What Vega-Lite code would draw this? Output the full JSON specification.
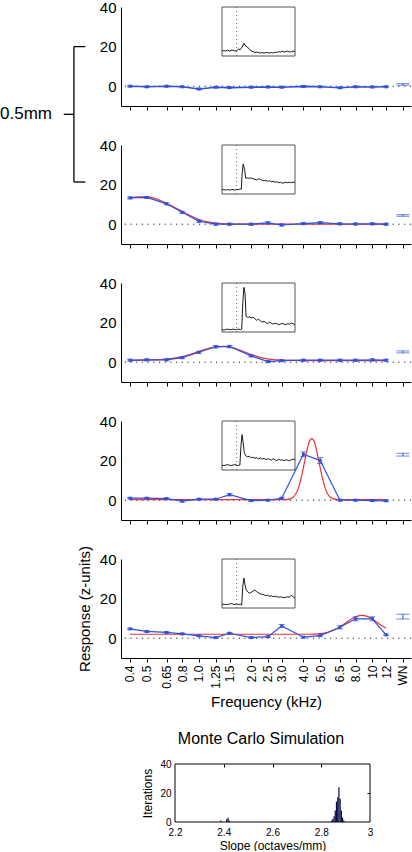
{
"$schema": "https://vega.github.io/schema/vega-lite/v6.json",
"padding": {"left": 0, "top": 0, "right": 0, "bottom": 0},
"background": "white",
"bounds": "flush",
"spacing": 39,
"config": {"view": {"stroke": null}, "font": "Liberation Sans",
 "axis": {"domainColor": "black", "tickColor": "black", "labelColor": "black", "titleColor": "black", "labelFont": "Liberation Sans", "titleFont": "Liberation Sans", "titleFontWeight": "normal", "grid": false},
 "title": {"font": "Liberation Sans", "fontWeight": "normal", "color": "black"}},
"datasets": {
"d": [
{"p":1,"f":0.4,"r":0,"e":0.4},{"p":1,"f":0.5,"r":-0.3,"e":0.4},{"p":1,"f":0.65,"r":0,"e":0.4},{"p":1,"f":0.8,"r":-0.3,"e":0.4},{"p":1,"f":1,"r":-1.4,"e":0.4},{"p":1,"f":1.25,"r":-0.5,"e":0.4},{"p":1,"f":1.5,"r":-0.7,"e":0.4},{"p":1,"f":2,"r":-0.5,"e":0.4},{"p":1,"f":2.5,"r":-0.4,"e":0.4},{"p":1,"f":3,"r":-0.5,"e":0.4},{"p":1,"f":4,"r":-0.1,"e":0.4},{"p":1,"f":5,"r":-0.3,"e":0.4},{"p":1,"f":6.5,"r":-0.8,"e":0.4},{"p":1,"f":8,"r":-0.3,"e":0.4},{"p":1,"f":10,"r":-0.4,"e":0.4},{"p":1,"f":12,"r":-0.3,"e":0.4},
{"p":2,"f":0.4,"r":13.3,"e":0.5},{"p":2,"f":0.5,"r":13.5,"e":0.5},{"p":2,"f":0.65,"r":10.3,"e":0.5},{"p":2,"f":0.8,"r":6,"e":0.5},{"p":2,"f":1,"r":1.5,"e":0.5},{"p":2,"f":1.25,"r":0,"e":0.5},{"p":2,"f":1.5,"r":0,"e":0.5},{"p":2,"f":2,"r":0,"e":0.5},{"p":2,"f":2.5,"r":0.7,"e":0.5},{"p":2,"f":3,"r":-0.4,"e":0.5},{"p":2,"f":4,"r":0.3,"e":0.5},{"p":2,"f":5,"r":0.8,"e":0.5},{"p":2,"f":6.5,"r":0.2,"e":0.5},{"p":2,"f":8,"r":0.1,"e":0.5},{"p":2,"f":10,"r":0.2,"e":0.5},{"p":2,"f":12,"r":0,"e":0.5},
{"p":3,"f":0.4,"r":1,"e":0.5},{"p":3,"f":0.5,"r":1.2,"e":0.5},{"p":3,"f":0.65,"r":1.2,"e":0.5},{"p":3,"f":0.8,"r":2.3,"e":0.5},{"p":3,"f":1,"r":5,"e":0.5},{"p":3,"f":1.25,"r":7.8,"e":0.6},{"p":3,"f":1.5,"r":7.9,"e":0.6},{"p":3,"f":2,"r":3.2,"e":0.5},{"p":3,"f":2.5,"r":0.3,"e":0.5},{"p":3,"f":3,"r":0.8,"e":0.5},{"p":3,"f":4,"r":1,"e":0.5},{"p":3,"f":5,"r":1,"e":0.5},{"p":3,"f":6.5,"r":1,"e":0.5},{"p":3,"f":8,"r":1,"e":0.5},{"p":3,"f":10,"r":1.2,"e":0.5},{"p":3,"f":12,"r":1,"e":0.5},
{"p":4,"f":0.4,"r":1,"e":0.4},{"p":4,"f":0.5,"r":1,"e":0.4},{"p":4,"f":0.65,"r":0.8,"e":0.4},{"p":4,"f":0.8,"r":-0.5,"e":0.4},{"p":4,"f":1,"r":0.5,"e":0.4},{"p":4,"f":1.25,"r":0.5,"e":0.4},{"p":4,"f":1.5,"r":2.8,"e":0.6},{"p":4,"f":2,"r":-0.2,"e":0.4},{"p":4,"f":2.5,"r":0,"e":0.4},{"p":4,"f":3,"r":1,"e":0.4},{"p":4,"f":4,"r":23.2,"e":1.2},{"p":4,"f":5,"r":20,"e":1.5},{"p":4,"f":6.5,"r":0,"e":0.4},{"p":4,"f":8,"r":0,"e":0.4},{"p":4,"f":10,"r":-0.2,"e":0.4},{"p":4,"f":12,"r":-0.3,"e":0.4},
{"p":5,"f":0.4,"r":4.7,"e":0.4},{"p":5,"f":0.5,"r":3.4,"e":0.4},{"p":5,"f":0.65,"r":2.9,"e":0.4},{"p":5,"f":0.8,"r":2.2,"e":0.4},{"p":5,"f":1,"r":1.2,"e":0.4},{"p":5,"f":1.25,"r":0.3,"e":0.4},{"p":5,"f":1.5,"r":2.5,"e":0.4},{"p":5,"f":2,"r":0.3,"e":0.4},{"p":5,"f":2.5,"r":0.8,"e":0.4},{"p":5,"f":3,"r":6.2,"e":0.7},{"p":5,"f":4,"r":0.5,"e":0.4},{"p":5,"f":5,"r":1.3,"e":0.4},{"p":5,"f":6.5,"r":5.5,"e":0.8},{"p":5,"f":8,"r":9.8,"e":1},{"p":5,"f":10,"r":9.8,"e":1},{"p":5,"f":12,"r":1.7,"e":0.4}
],
"wn": [
{"p":1,"f":15,"r":0.9,"e":0.4},{"p":2,"f":15,"r":4.4,"e":0.4},{"p":3,"f":15,"r":5.2,"e":0.5},{"p":4,"f":15,"r":23,"e":0.7},{"p":5,"f":15,"r":10.9,"e":1.2}
],
"fit": [
{"p":2,"f":0.4,"r":13.3},{"p":2,"f":0.45,"r":13.8},{"p":2,"f":0.5,"r":13.8},{"p":2,"f":0.55,"r":13.2},{"p":2,"f":0.6,"r":11.9},{"p":2,"f":0.65,"r":10.6},{"p":2,"f":0.7,"r":9.2},{"p":2,"f":0.75,"r":7.8},{"p":2,"f":0.8,"r":6.4},{"p":2,"f":0.9,"r":4.1},{"p":2,"f":1,"r":2.4},{"p":2,"f":1.1,"r":1.3},{"p":2,"f":1.25,"r":0.5},{"p":2,"f":1.4,"r":0.2},{"p":2,"f":1.6,"r":0.05},{"p":2,"f":2,"r":0},{"p":2,"f":3,"r":0},{"p":2,"f":5,"r":0},{"p":2,"f":8,"r":0},{"p":2,"f":12,"r":0},
{"p":3,"f":0.4,"r":0.9},{"p":3,"f":0.5,"r":1},{"p":3,"f":0.6,"r":1.3},{"p":3,"f":0.7,"r":1.9},{"p":3,"f":0.8,"r":2.8},{"p":3,"f":0.9,"r":4.1},{"p":3,"f":1,"r":5.4},{"p":3,"f":1.1,"r":6.6},{"p":3,"f":1.2,"r":7.5},{"p":3,"f":1.3,"r":7.9},{"p":3,"f":1.4,"r":8},{"p":3,"f":1.5,"r":7.7},{"p":3,"f":1.7,"r":6.3},{"p":3,"f":2,"r":3.9},{"p":3,"f":2.3,"r":2.2},{"p":3,"f":2.6,"r":1.4},{"p":3,"f":3,"r":1},{"p":3,"f":4,"r":0.8},{"p":3,"f":6,"r":0.8},{"p":3,"f":12,"r":0.8},
{"p":4,"f":0.4,"r":0.3},{"p":4,"f":1,"r":0.3},{"p":4,"f":2,"r":0.3},{"p":4,"f":2.6,"r":0.3},{"p":4,"f":2.95,"r":0.33},{"p":4,"f":3.16,"r":0.35},{"p":4,"f":3.39,"r":0.8},{"p":4,"f":3.63,"r":3.4},{"p":4,"f":3.76,"r":6.6},{"p":4,"f":3.89,"r":11.5},{"p":4,"f":4.03,"r":17.8},{"p":4,"f":4.17,"r":24.3},{"p":4,"f":4.32,"r":29.4},{"p":4,"f":4.47,"r":31.1},{"p":4,"f":4.63,"r":29.4},{"p":4,"f":4.79,"r":24.3},{"p":4,"f":4.96,"r":17.8},{"p":4,"f":5.14,"r":11.5},{"p":4,"f":5.32,"r":6.6},{"p":4,"f":5.5,"r":3.4},{"p":4,"f":5.9,"r":0.8},{"p":4,"f":6.32,"r":0.35},{"p":4,"f":6.78,"r":0.3},{"p":4,"f":8,"r":0.3},{"p":4,"f":12,"r":0.3},
{"p":5,"f":0.4,"r":2},{"p":5,"f":1,"r":2},{"p":5,"f":2,"r":2},{"p":5,"f":4,"r":2},{"p":5,"f":4.66,"r":2.1},{"p":5,"f":5,"r":2.3},{"p":5,"f":5.36,"r":2.7},{"p":5,"f":5.74,"r":3.4},{"p":5,"f":6.15,"r":4.5},{"p":5,"f":6.59,"r":6},{"p":5,"f":7.07,"r":7.9},{"p":5,"f":7.58,"r":9.7},{"p":5,"f":8.12,"r":11},{"p":5,"f":8.7,"r":11.5},{"p":5,"f":9.33,"r":11},{"p":5,"f":10,"r":9.7},{"p":5,"f":10.7,"r":7.9},{"p":5,"f":11.48,"r":6},{"p":5,"f":12,"r":5}
],
"ins": [
{"p":1,"t":0,"v":10},{"p":1,"t":2.5,"v":11},{"p":1,"t":5,"v":10},{"p":1,"t":7.5,"v":12},{"p":1,"t":10,"v":10},{"p":1,"t":12.5,"v":11},{"p":1,"t":15,"v":12},{"p":1,"t":17.5,"v":10},{"p":1,"t":20,"v":11},{"p":1,"t":22.5,"v":14},{"p":1,"t":25,"v":13},{"p":1,"t":27.5,"v":18},{"p":1,"t":30,"v":26},{"p":1,"t":32.5,"v":20},{"p":1,"t":35,"v":18},{"p":1,"t":37.5,"v":14},{"p":1,"t":40,"v":10},{"p":1,"t":42.5,"v":9},{"p":1,"t":45,"v":7},{"p":1,"t":47.5,"v":8},{"p":1,"t":50,"v":7},{"p":1,"t":52.5,"v":6},{"p":1,"t":55,"v":7},{"p":1,"t":57.5,"v":6},{"p":1,"t":60,"v":7},{"p":1,"t":62.5,"v":7},{"p":1,"t":65,"v":6},{"p":1,"t":67.5,"v":7},{"p":1,"t":70,"v":6},{"p":1,"t":72.5,"v":8},{"p":1,"t":75,"v":7},{"p":1,"t":77.5,"v":9},{"p":1,"t":80,"v":8},{"p":1,"t":82.5,"v":10},{"p":1,"t":85,"v":8},{"p":1,"t":87.5,"v":9},{"p":1,"t":90,"v":10},{"p":1,"t":92.5,"v":8},{"p":1,"t":95,"v":9},{"p":1,"t":97.5,"v":10},{"p":1,"t":100,"v":9},
{"p":2,"t":0,"v":8},{"p":2,"t":2.5,"v":9},{"p":2,"t":5,"v":8},{"p":2,"t":7.5,"v":9},{"p":2,"t":10,"v":8},{"p":2,"t":12.5,"v":9},{"p":2,"t":15,"v":9},{"p":2,"t":17.5,"v":8},{"p":2,"t":20,"v":9},{"p":2,"t":22.5,"v":9},{"p":2,"t":25,"v":10},{"p":2,"t":26.5,"v":10},{"p":2,"t":27.5,"v":40},{"p":2,"t":29,"v":61},{"p":2,"t":31,"v":50},{"p":2,"t":32.5,"v":32},{"p":2,"t":35,"v":33},{"p":2,"t":37.5,"v":32},{"p":2,"t":40,"v":33},{"p":2,"t":42.5,"v":31},{"p":2,"t":45,"v":30},{"p":2,"t":47.5,"v":29},{"p":2,"t":50,"v":31},{"p":2,"t":52.5,"v":30},{"p":2,"t":55,"v":28},{"p":2,"t":57.5,"v":27},{"p":2,"t":60,"v":28},{"p":2,"t":62.5,"v":26},{"p":2,"t":65,"v":27},{"p":2,"t":67.5,"v":25},{"p":2,"t":70,"v":26},{"p":2,"t":72.5,"v":24},{"p":2,"t":75,"v":25},{"p":2,"t":77.5,"v":23},{"p":2,"t":80,"v":24},{"p":2,"t":82.5,"v":22},{"p":2,"t":85,"v":23},{"p":2,"t":87.5,"v":24},{"p":2,"t":90,"v":23},{"p":2,"t":92.5,"v":24},{"p":2,"t":95,"v":23},{"p":2,"t":97.5,"v":24},{"p":2,"t":100,"v":24},
{"p":3,"t":0,"v":5},{"p":3,"t":2.5,"v":4},{"p":3,"t":5,"v":5},{"p":3,"t":7.5,"v":6},{"p":3,"t":10,"v":5},{"p":3,"t":12.5,"v":5},{"p":3,"t":15,"v":6},{"p":3,"t":17.5,"v":5},{"p":3,"t":20,"v":5},{"p":3,"t":22.5,"v":6},{"p":3,"t":25,"v":5},{"p":3,"t":27,"v":6},{"p":3,"t":28.5,"v":60},{"p":3,"t":30,"v":91},{"p":3,"t":31.5,"v":80},{"p":3,"t":33,"v":32},{"p":3,"t":35,"v":30},{"p":3,"t":37.5,"v":31},{"p":3,"t":40,"v":29},{"p":3,"t":42.5,"v":30},{"p":3,"t":45,"v":27},{"p":3,"t":47.5,"v":24},{"p":3,"t":50,"v":26},{"p":3,"t":52.5,"v":23},{"p":3,"t":55,"v":20},{"p":3,"t":57.5,"v":22},{"p":3,"t":60,"v":19},{"p":3,"t":62.5,"v":17},{"p":3,"t":65,"v":20},{"p":3,"t":67.5,"v":18},{"p":3,"t":70,"v":16},{"p":3,"t":72.5,"v":18},{"p":3,"t":75,"v":17},{"p":3,"t":77.5,"v":15},{"p":3,"t":80,"v":16},{"p":3,"t":82.5,"v":18},{"p":3,"t":85,"v":16},{"p":3,"t":87.5,"v":15},{"p":3,"t":90,"v":17},{"p":3,"t":92.5,"v":16},{"p":3,"t":95,"v":18},{"p":3,"t":97.5,"v":17},{"p":3,"t":100,"v":14},
{"p":4,"t":0,"v":10},{"p":4,"t":2.5,"v":9},{"p":4,"t":5,"v":10},{"p":4,"t":7.5,"v":11},{"p":4,"t":10,"v":10},{"p":4,"t":12.5,"v":9},{"p":4,"t":15,"v":10},{"p":4,"t":17.5,"v":11},{"p":4,"t":20,"v":10},{"p":4,"t":22.5,"v":9},{"p":4,"t":24.5,"v":10},{"p":4,"t":26,"v":50},{"p":4,"t":27.5,"v":72},{"p":4,"t":29,"v":55},{"p":4,"t":30.5,"v":36},{"p":4,"t":32.5,"v":29},{"p":4,"t":35,"v":27},{"p":4,"t":37.5,"v":28},{"p":4,"t":40,"v":25},{"p":4,"t":42.5,"v":26},{"p":4,"t":45,"v":24},{"p":4,"t":47.5,"v":25},{"p":4,"t":50,"v":23},{"p":4,"t":52.5,"v":25},{"p":4,"t":55,"v":22},{"p":4,"t":57.5,"v":24},{"p":4,"t":60,"v":21},{"p":4,"t":62.5,"v":23},{"p":4,"t":65,"v":22},{"p":4,"t":67.5,"v":20},{"p":4,"t":70,"v":23},{"p":4,"t":72.5,"v":21},{"p":4,"t":75,"v":19},{"p":4,"t":77.5,"v":22},{"p":4,"t":80,"v":20},{"p":4,"t":82.5,"v":21},{"p":4,"t":85,"v":19},{"p":4,"t":87.5,"v":21},{"p":4,"t":90,"v":20},{"p":4,"t":92.5,"v":19},{"p":4,"t":95,"v":21},{"p":4,"t":97.5,"v":22},{"p":4,"t":100,"v":21},
{"p":5,"t":0,"v":7},{"p":5,"t":2.5,"v":8},{"p":5,"t":5,"v":7},{"p":5,"t":7.5,"v":7},{"p":5,"t":10,"v":8},{"p":5,"t":12.5,"v":9},{"p":5,"t":15,"v":8},{"p":5,"t":17.5,"v":7},{"p":5,"t":20,"v":8},{"p":5,"t":22.5,"v":7},{"p":5,"t":25,"v":8},{"p":5,"t":27,"v":6},{"p":5,"t":28.5,"v":45},{"p":5,"t":30,"v":61},{"p":5,"t":31.5,"v":48},{"p":5,"t":33,"v":38},{"p":5,"t":35,"v":33},{"p":5,"t":37.5,"v":30},{"p":5,"t":40,"v":32},{"p":5,"t":42.5,"v":34},{"p":5,"t":45,"v":37},{"p":5,"t":47.5,"v":33},{"p":5,"t":50,"v":31},{"p":5,"t":52.5,"v":29},{"p":5,"t":55,"v":28},{"p":5,"t":57.5,"v":27},{"p":5,"t":60,"v":25},{"p":5,"t":62.5,"v":26},{"p":5,"t":65,"v":24},{"p":5,"t":67.5,"v":25},{"p":5,"t":70,"v":23},{"p":5,"t":72.5,"v":24},{"p":5,"t":75,"v":23},{"p":5,"t":77.5,"v":22},{"p":5,"t":80,"v":23},{"p":5,"t":82.5,"v":22},{"p":5,"t":85,"v":21},{"p":5,"t":87.5,"v":22},{"p":5,"t":90,"v":23},{"p":5,"t":92.5,"v":22},{"p":5,"t":95,"v":26},{"p":5,"t":97.5,"v":23},{"p":5,"t":100,"v":20}
],
"hist": [
{"lo":2.385,"hi":2.39,"n":1},{"lo":2.41,"hi":2.415,"n":2},{"lo":2.415,"hi":2.42,"n":3},{"lo":2.42,"hi":2.425,"n":1},
{"lo":2.84,"hi":2.845,"n":1},{"lo":2.845,"hi":2.85,"n":2},{"lo":2.85,"hi":2.855,"n":4},{"lo":2.855,"hi":2.86,"n":8},{"lo":2.86,"hi":2.865,"n":14},{"lo":2.865,"hi":2.87,"n":17},{"lo":2.87,"hi":2.875,"n":24},{"lo":2.875,"hi":2.88,"n":16},{"lo":2.88,"hi":2.885,"n":8},{"lo":2.885,"hi":2.89,"n":3},{"lo":2.89,"hi":2.895,"n":1}
]
},
"vconcat": [
{"width": 290, "height": 99, "resolve": {"scale": {"x": "independent", "y": "independent"}},
 "layer": [
  {"layer": [
   {"data": {"values": [{}]}, "mark": {"type": "rule", "strokeDash": [1.2, 4.5], "color": "#222"}, "encoding": {"y": {"datum": 0, "type": "quantitative", "scale": {"domain": [-10, 40], "nice": false, "zero": false}}}},
   {"data": {"name": "d"}, "transform": [{"filter": "datum.p == 1"}], "mark": {"type": "errorbar", "color": "#3050d8", "ticks": {"size": 6}}, "encoding": {"x": {"field": "f", "type": "quantitative", "scale": {"type": "log", "domain": [0.355, 16.7], "nice": false}}, "y": {"field": "r", "type": "quantitative", "scale": {"domain": [-10, 40], "nice": false, "zero": false}}, "yError": {"field": "e"}}},
   {"data": {"name": "d"}, "transform": [{"filter": "datum.p == 1"}], "mark": {"type": "line", "color": "#3050d8", "strokeWidth": 1.6},
    "encoding": {"x": {"field": "f", "type": "quantitative", "scale": {"type": "log", "domain": [0.355, 16.7], "nice": false}, "axis": {"values": [0.4,0.5,0.65,0.8,1,1.25,1.5,2,2.5,3,4,5,6.5,8,10,12,15], "labels": false, "tickSize": 4, "title": null}}, "y": {"field": "r", "type": "quantitative", "scale": {"domain": [-10, 40], "nice": false, "zero": false}, "axis": {"values": [0,20,40], "tickSize": 0, "labelPadding": 5, "labelFontSize": 15, "title": null}}}},
   {"data": {"name": "d"}, "transform": [{"filter": "datum.p == 1"}], "mark": {"type": "square", "size": 9, "color": "#3050d8", "opacity": 1}, "encoding": {"x": {"field": "f", "type": "quantitative", "scale": {"type": "log", "domain": [0.355, 16.7], "nice": false}}, "y": {"field": "r", "type": "quantitative", "scale": {"domain": [-10, 40], "nice": false, "zero": false}}}},
   {"data": {"name": "wn"}, "transform": [{"filter": "datum.p == 1"}], "mark": {"type": "errorbar", "color": "#3050d8", "ticks": {"size": 13}}, "encoding": {"x": {"field": "f", "type": "quantitative", "scale": {"type": "log", "domain": [0.355, 16.7], "nice": false}}, "y": {"field": "r", "type": "quantitative", "scale": {"domain": [-10, 40], "nice": false, "zero": false}}, "yError": {"field": "e"}}},
   {"data": {"values": [{}]}, "mark": {"type": "rule", "color": "black", "strokeWidth": 1.3}, "encoding": {"x": {"datum": 0.19, "type": "quantitative", "scale": {"type": "log", "domain": [0.355, 16.7], "nice": false}}, "y": {"datum": 20, "type": "quantitative", "scale": {"domain": [-10, 40], "nice": false, "zero": false}}, "y2": {"datum": -48.4}}},
   {"data": {"values": [{}]}, "mark": {"type": "rule", "color": "black", "strokeWidth": 1.3}, "encoding": {"x": {"datum": 0.19, "type": "quantitative", "scale": {"type": "log", "domain": [0.355, 16.7], "nice": false}}, "x2": {"datum": 0.221}, "y": {"datum": 20, "type": "quantitative", "scale": {"domain": [-10, 40], "nice": false, "zero": false}}}},
   {"data": {"values": [{}]}, "mark": {"type": "rule", "color": "black", "strokeWidth": 1.3}, "encoding": {"x": {"datum": 0.19, "type": "quantitative", "scale": {"type": "log", "domain": [0.355, 16.7], "nice": false}}, "x2": {"datum": 0.221}, "y": {"datum": -48.4, "type": "quantitative", "scale": {"domain": [-10, 40], "nice": false, "zero": false}}}},
   {"data": {"values": [{}]}, "mark": {"type": "rule", "color": "black", "strokeWidth": 1.3}, "encoding": {"x": {"datum": 0.166, "type": "quantitative", "scale": {"type": "log", "domain": [0.355, 16.7], "nice": false}}, "x2": {"datum": 0.19}, "y": {"datum": -14.2, "type": "quantitative", "scale": {"domain": [-10, 40], "nice": false, "zero": false}}}},
   {"data": {"values": [{}]}, "mark": {"type": "text", "text": "0.5mm", "align": "right", "baseline": "middle", "fontSize": 17, "font": "Liberation Sans", "color": "black"}, "encoding": {"x": {"datum": 0.142, "type": "quantitative", "scale": {"type": "log", "domain": [0.355, 16.7], "nice": false}}, "y": {"datum": -14.2, "type": "quantitative", "scale": {"domain": [-10, 40], "nice": false, "zero": false}}}}
  ]},
  {"layer": [
   {"data": {"values": [{}]}, "mark": {"type": "rect", "fill": "white", "stroke": "#555", "strokeWidth": 1}, "encoding": {"x": {"datum": 0, "type": "quantitative", "scale": {"domain": [0, 100], "range": [101, 174], "nice": false, "zero": false}, "axis": null}, "x2": {"datum": 100}, "y": {"datum": 0, "type": "quantitative", "scale": {"domain": [0, 100], "range": [49, 0], "nice": false, "zero": false}, "axis": null}, "y2": {"datum": 100}}},
   {"data": {"values": [{}]}, "mark": {"type": "rule", "strokeDash": [1, 3], "color": "#666"}, "encoding": {"x": {"datum": 20, "type": "quantitative", "scale": {"domain": [0, 100], "range": [101, 174], "nice": false, "zero": false}, "axis": null}, "y": {"datum": 0, "type": "quantitative", "scale": {"domain": [0, 100], "range": [49, 0], "nice": false, "zero": false}, "axis": null}, "y2": {"datum": 100}}},
   {"data": {"name": "ins"}, "transform": [{"filter": "datum.p == 1"}], "mark": {"type": "line", "color": "black", "strokeWidth": 0.9}, "encoding": {"x": {"field": "t", "type": "quantitative", "scale": {"domain": [0, 100], "range": [101, 174], "nice": false, "zero": false}, "axis": null}, "y": {"field": "v", "type": "quantitative", "scale": {"domain": [0, 100], "range": [49, 0], "nice": false, "zero": false}, "axis": null}}}
  ]}
 ]},
{"width": 290, "height": 99, "resolve": {"scale": {"x": "independent", "y": "independent"}},
 "layer": [
  {"layer": [
   {"data": {"values": [{}]}, "mark": {"type": "rule", "strokeDash": [1.2, 4.5], "color": "#222"}, "encoding": {"y": {"datum": 0, "type": "quantitative", "scale": {"domain": [-10, 40], "nice": false, "zero": false}}}},
   {"data": {"name": "fit"}, "transform": [{"filter": "datum.p == 2"}], "mark": {"type": "line", "color": "#e8323c", "strokeWidth": 1.2, "interpolate": "monotone"}, "encoding": {"x": {"field": "f", "type": "quantitative", "scale": {"type": "log", "domain": [0.355, 16.7], "nice": false}}, "y": {"field": "r", "type": "quantitative", "scale": {"domain": [-10, 40], "nice": false, "zero": false}}}},
   {"data": {"name": "d"}, "transform": [{"filter": "datum.p == 2"}], "mark": {"type": "errorbar", "color": "#3050d8", "ticks": {"size": 6}}, "encoding": {"x": {"field": "f", "type": "quantitative", "scale": {"type": "log", "domain": [0.355, 16.7], "nice": false}}, "y": {"field": "r", "type": "quantitative", "scale": {"domain": [-10, 40], "nice": false, "zero": false}}, "yError": {"field": "e"}}},
   {"data": {"name": "d"}, "transform": [{"filter": "datum.p == 2"}], "mark": {"type": "line", "color": "#3050d8", "strokeWidth": 1.2},
    "encoding": {"x": {"field": "f", "type": "quantitative", "scale": {"type": "log", "domain": [0.355, 16.7], "nice": false}, "axis": {"values": [0.4,0.5,0.65,0.8,1,1.25,1.5,2,2.5,3,4,5,6.5,8,10,12,15], "labels": false, "tickSize": 4, "title": null}}, "y": {"field": "r", "type": "quantitative", "scale": {"domain": [-10, 40], "nice": false, "zero": false}, "axis": {"values": [0,20,40], "tickSize": 0, "labelPadding": 5, "labelFontSize": 15, "title": null}}}},
   {"data": {"name": "d"}, "transform": [{"filter": "datum.p == 2"}], "mark": {"type": "square", "size": 9, "color": "#3050d8", "opacity": 1}, "encoding": {"x": {"field": "f", "type": "quantitative", "scale": {"type": "log", "domain": [0.355, 16.7], "nice": false}}, "y": {"field": "r", "type": "quantitative", "scale": {"domain": [-10, 40], "nice": false, "zero": false}}}},
   {"data": {"name": "wn"}, "transform": [{"filter": "datum.p == 2"}], "mark": {"type": "errorbar", "color": "#3050d8", "ticks": {"size": 13}}, "encoding": {"x": {"field": "f", "type": "quantitative", "scale": {"type": "log", "domain": [0.355, 16.7], "nice": false}}, "y": {"field": "r", "type": "quantitative", "scale": {"domain": [-10, 40], "nice": false, "zero": false}}, "yError": {"field": "e"}}}
  ]},
  {"layer": [
   {"data": {"values": [{}]}, "mark": {"type": "rect", "fill": "white", "stroke": "#555", "strokeWidth": 1}, "encoding": {"x": {"datum": 0, "type": "quantitative", "scale": {"domain": [0, 100], "range": [101, 174], "nice": false, "zero": false}, "axis": null}, "x2": {"datum": 100}, "y": {"datum": 0, "type": "quantitative", "scale": {"domain": [0, 100], "range": [49, 0], "nice": false, "zero": false}, "axis": null}, "y2": {"datum": 100}}},
   {"data": {"values": [{}]}, "mark": {"type": "rule", "strokeDash": [1, 3], "color": "#666"}, "encoding": {"x": {"datum": 20, "type": "quantitative", "scale": {"domain": [0, 100], "range": [101, 174], "nice": false, "zero": false}, "axis": null}, "y": {"datum": 0, "type": "quantitative", "scale": {"domain": [0, 100], "range": [49, 0], "nice": false, "zero": false}, "axis": null}, "y2": {"datum": 100}}},
   {"data": {"name": "ins"}, "transform": [{"filter": "datum.p == 2"}], "mark": {"type": "line", "color": "black", "strokeWidth": 0.9}, "encoding": {"x": {"field": "t", "type": "quantitative", "scale": {"domain": [0, 100], "range": [101, 174], "nice": false, "zero": false}, "axis": null}, "y": {"field": "v", "type": "quantitative", "scale": {"domain": [0, 100], "range": [49, 0], "nice": false, "zero": false}, "axis": null}}}
  ]}
 ]},
{"width": 290, "height": 99, "resolve": {"scale": {"x": "independent", "y": "independent"}},
 "layer": [
  {"layer": [
   {"data": {"values": [{}]}, "mark": {"type": "rule", "strokeDash": [1.2, 4.5], "color": "#222"}, "encoding": {"y": {"datum": 0, "type": "quantitative", "scale": {"domain": [-10, 40], "nice": false, "zero": false}}}},
   {"data": {"name": "fit"}, "transform": [{"filter": "datum.p == 3"}], "mark": {"type": "line", "color": "#e8323c", "strokeWidth": 1.2, "interpolate": "monotone"}, "encoding": {"x": {"field": "f", "type": "quantitative", "scale": {"type": "log", "domain": [0.355, 16.7], "nice": false}}, "y": {"field": "r", "type": "quantitative", "scale": {"domain": [-10, 40], "nice": false, "zero": false}}}},
   {"data": {"name": "d"}, "transform": [{"filter": "datum.p == 3"}], "mark": {"type": "errorbar", "color": "#3050d8", "ticks": {"size": 6}}, "encoding": {"x": {"field": "f", "type": "quantitative", "scale": {"type": "log", "domain": [0.355, 16.7], "nice": false}}, "y": {"field": "r", "type": "quantitative", "scale": {"domain": [-10, 40], "nice": false, "zero": false}}, "yError": {"field": "e"}}},
   {"data": {"name": "d"}, "transform": [{"filter": "datum.p == 3"}], "mark": {"type": "line", "color": "#3050d8", "strokeWidth": 1.2},
    "encoding": {"x": {"field": "f", "type": "quantitative", "scale": {"type": "log", "domain": [0.355, 16.7], "nice": false}, "axis": {"values": [0.4,0.5,0.65,0.8,1,1.25,1.5,2,2.5,3,4,5,6.5,8,10,12,15], "labels": false, "tickSize": 4, "title": null}}, "y": {"field": "r", "type": "quantitative", "scale": {"domain": [-10, 40], "nice": false, "zero": false}, "axis": {"values": [0,20,40], "tickSize": 0, "labelPadding": 5, "labelFontSize": 15, "title": null}}}},
   {"data": {"name": "d"}, "transform": [{"filter": "datum.p == 3"}], "mark": {"type": "square", "size": 9, "color": "#3050d8", "opacity": 1}, "encoding": {"x": {"field": "f", "type": "quantitative", "scale": {"type": "log", "domain": [0.355, 16.7], "nice": false}}, "y": {"field": "r", "type": "quantitative", "scale": {"domain": [-10, 40], "nice": false, "zero": false}}}},
   {"data": {"name": "wn"}, "transform": [{"filter": "datum.p == 3"}], "mark": {"type": "errorbar", "color": "#3050d8", "ticks": {"size": 13}}, "encoding": {"x": {"field": "f", "type": "quantitative", "scale": {"type": "log", "domain": [0.355, 16.7], "nice": false}}, "y": {"field": "r", "type": "quantitative", "scale": {"domain": [-10, 40], "nice": false, "zero": false}}, "yError": {"field": "e"}}}
  ]},
  {"layer": [
   {"data": {"values": [{}]}, "mark": {"type": "rect", "fill": "white", "stroke": "#555", "strokeWidth": 1}, "encoding": {"x": {"datum": 0, "type": "quantitative", "scale": {"domain": [0, 100], "range": [101, 174], "nice": false, "zero": false}, "axis": null}, "x2": {"datum": 100}, "y": {"datum": 0, "type": "quantitative", "scale": {"domain": [0, 100], "range": [49, 0], "nice": false, "zero": false}, "axis": null}, "y2": {"datum": 100}}},
   {"data": {"values": [{}]}, "mark": {"type": "rule", "strokeDash": [1, 3], "color": "#666"}, "encoding": {"x": {"datum": 20, "type": "quantitative", "scale": {"domain": [0, 100], "range": [101, 174], "nice": false, "zero": false}, "axis": null}, "y": {"datum": 0, "type": "quantitative", "scale": {"domain": [0, 100], "range": [49, 0], "nice": false, "zero": false}, "axis": null}, "y2": {"datum": 100}}},
   {"data": {"name": "ins"}, "transform": [{"filter": "datum.p == 3"}], "mark": {"type": "line", "color": "black", "strokeWidth": 0.9}, "encoding": {"x": {"field": "t", "type": "quantitative", "scale": {"domain": [0, 100], "range": [101, 174], "nice": false, "zero": false}, "axis": null}, "y": {"field": "v", "type": "quantitative", "scale": {"domain": [0, 100], "range": [49, 0], "nice": false, "zero": false}, "axis": null}}}
  ]}
 ]},
{"width": 290, "height": 99, "resolve": {"scale": {"x": "independent", "y": "independent"}},
 "layer": [
  {"layer": [
   {"data": {"values": [{}]}, "mark": {"type": "rule", "strokeDash": [1.2, 4.5], "color": "#222"}, "encoding": {"y": {"datum": 0, "type": "quantitative", "scale": {"domain": [-10, 40], "nice": false, "zero": false}}}},
   {"data": {"name": "fit"}, "transform": [{"filter": "datum.p == 4"}], "mark": {"type": "line", "color": "#e8323c", "strokeWidth": 1.2, "interpolate": "monotone"}, "encoding": {"x": {"field": "f", "type": "quantitative", "scale": {"type": "log", "domain": [0.355, 16.7], "nice": false}}, "y": {"field": "r", "type": "quantitative", "scale": {"domain": [-10, 40], "nice": false, "zero": false}}}},
   {"data": {"name": "d"}, "transform": [{"filter": "datum.p == 4"}], "mark": {"type": "errorbar", "color": "#3050d8", "ticks": {"size": 6}}, "encoding": {"x": {"field": "f", "type": "quantitative", "scale": {"type": "log", "domain": [0.355, 16.7], "nice": false}}, "y": {"field": "r", "type": "quantitative", "scale": {"domain": [-10, 40], "nice": false, "zero": false}}, "yError": {"field": "e"}}},
   {"data": {"name": "d"}, "transform": [{"filter": "datum.p == 4"}], "mark": {"type": "line", "color": "#3050d8", "strokeWidth": 1.2},
    "encoding": {"x": {"field": "f", "type": "quantitative", "scale": {"type": "log", "domain": [0.355, 16.7], "nice": false}, "axis": {"values": [0.4,0.5,0.65,0.8,1,1.25,1.5,2,2.5,3,4,5,6.5,8,10,12,15], "labels": false, "tickSize": 4, "title": null}}, "y": {"field": "r", "type": "quantitative", "scale": {"domain": [-10, 40], "nice": false, "zero": false}, "axis": {"values": [0,20,40], "tickSize": 0, "labelPadding": 5, "labelFontSize": 15, "title": null}}}},
   {"data": {"name": "d"}, "transform": [{"filter": "datum.p == 4"}], "mark": {"type": "square", "size": 9, "color": "#3050d8", "opacity": 1}, "encoding": {"x": {"field": "f", "type": "quantitative", "scale": {"type": "log", "domain": [0.355, 16.7], "nice": false}}, "y": {"field": "r", "type": "quantitative", "scale": {"domain": [-10, 40], "nice": false, "zero": false}}}},
   {"data": {"name": "wn"}, "transform": [{"filter": "datum.p == 4"}], "mark": {"type": "errorbar", "color": "#3050d8", "ticks": {"size": 13}}, "encoding": {"x": {"field": "f", "type": "quantitative", "scale": {"type": "log", "domain": [0.355, 16.7], "nice": false}}, "y": {"field": "r", "type": "quantitative", "scale": {"domain": [-10, 40], "nice": false, "zero": false}}, "yError": {"field": "e"}}}
  ]},
  {"layer": [
   {"data": {"values": [{}]}, "mark": {"type": "rect", "fill": "white", "stroke": "#555", "strokeWidth": 1}, "encoding": {"x": {"datum": 0, "type": "quantitative", "scale": {"domain": [0, 100], "range": [101, 174], "nice": false, "zero": false}, "axis": null}, "x2": {"datum": 100}, "y": {"datum": 0, "type": "quantitative", "scale": {"domain": [0, 100], "range": [49, 0], "nice": false, "zero": false}, "axis": null}, "y2": {"datum": 100}}},
   {"data": {"values": [{}]}, "mark": {"type": "rule", "strokeDash": [1, 3], "color": "#666"}, "encoding": {"x": {"datum": 20, "type": "quantitative", "scale": {"domain": [0, 100], "range": [101, 174], "nice": false, "zero": false}, "axis": null}, "y": {"datum": 0, "type": "quantitative", "scale": {"domain": [0, 100], "range": [49, 0], "nice": false, "zero": false}, "axis": null}, "y2": {"datum": 100}}},
   {"data": {"name": "ins"}, "transform": [{"filter": "datum.p == 4"}], "mark": {"type": "line", "color": "black", "strokeWidth": 0.9}, "encoding": {"x": {"field": "t", "type": "quantitative", "scale": {"domain": [0, 100], "range": [101, 174], "nice": false, "zero": false}, "axis": null}, "y": {"field": "v", "type": "quantitative", "scale": {"domain": [0, 100], "range": [49, 0], "nice": false, "zero": false}, "axis": null}}}
  ]}
 ]},
{"width": 290, "height": 99, "resolve": {"scale": {"x": "independent", "y": "independent"}},
 "layer": [
  {"layer": [
   {"data": {"values": [{}]}, "mark": {"type": "rule", "strokeDash": [1.2, 4.5], "color": "#222"}, "encoding": {"y": {"datum": 0, "type": "quantitative", "title": "Response (z-units)", "scale": {"domain": [-10, 40], "nice": false, "zero": false}}}},
   {"data": {"name": "fit"}, "transform": [{"filter": "datum.p == 5"}], "mark": {"type": "line", "color": "#e8323c", "strokeWidth": 1.2, "interpolate": "monotone"}, "encoding": {"x": {"field": "f", "type": "quantitative", "title": "Frequency (kHz)", "scale": {"type": "log", "domain": [0.355, 16.7], "nice": false}}, "y": {"field": "r", "type": "quantitative", "title": "Response (z-units)", "scale": {"domain": [-10, 40], "nice": false, "zero": false}}}},
   {"data": {"name": "d"}, "transform": [{"filter": "datum.p == 5"}], "mark": {"type": "errorbar", "color": "#3050d8", "ticks": {"size": 6}}, "encoding": {"x": {"field": "f", "type": "quantitative", "title": "Frequency (kHz)", "scale": {"type": "log", "domain": [0.355, 16.7], "nice": false}}, "y": {"field": "r", "type": "quantitative", "title": "Response (z-units)", "scale": {"domain": [-10, 40], "nice": false, "zero": false}}, "yError": {"field": "e"}}},
   {"data": {"name": "d"}, "transform": [{"filter": "datum.p == 5"}], "mark": {"type": "line", "color": "#3050d8", "strokeWidth": 1.2},
    "encoding": {"x": {"field": "f", "type": "quantitative", "title": "Frequency (kHz)", "scale": {"type": "log", "domain": [0.355, 16.7], "nice": false}, "axis": {"values": [0.4,0.5,0.65,0.8,1,1.25,1.5,2,2.5,3,4,5,6.5,8,10,12,15], "tickSize": 4, "labelAngle": -90, "labelFontSize": 12, "labelPadding": 3, "labelFlush": false, "labelOverlap": false, "labelBound": false, "labelExpr": "datum.value == 15 ? 'WN' : datum.value >= 10 ? format(datum.value, 'd') : (datum.value == 0.65 || datum.value == 1.25) ? format(datum.value, '.2f') : format(datum.value, '.1f')", "title": "Frequency (kHz)", "titleFontSize": 15, "titlePadding": 6}}, "y": {"field": "r", "type": "quantitative", "title": "Response (z-units)", "scale": {"domain": [-10, 40], "nice": false, "zero": false}, "axis": {"values": [0,20,40], "tickSize": 0, "labelPadding": 5, "labelFontSize": 15, "title": "Response (z-units)", "titleFontSize": 15, "titlePadding": 7}}}},
   {"data": {"name": "d"}, "transform": [{"filter": "datum.p == 5"}], "mark": {"type": "square", "size": 9, "color": "#3050d8", "opacity": 1}, "encoding": {"x": {"field": "f", "type": "quantitative", "title": "Frequency (kHz)", "scale": {"type": "log", "domain": [0.355, 16.7], "nice": false}}, "y": {"field": "r", "type": "quantitative", "title": "Response (z-units)", "scale": {"domain": [-10, 40], "nice": false, "zero": false}}}},
   {"data": {"name": "wn"}, "transform": [{"filter": "datum.p == 5"}], "mark": {"type": "errorbar", "color": "#3050d8", "ticks": {"size": 13}}, "encoding": {"x": {"field": "f", "type": "quantitative", "title": "Frequency (kHz)", "scale": {"type": "log", "domain": [0.355, 16.7], "nice": false}}, "y": {"field": "r", "type": "quantitative", "title": "Response (z-units)", "scale": {"domain": [-10, 40], "nice": false, "zero": false}}, "yError": {"field": "e"}}}
  ]},
  {"layer": [
   {"data": {"values": [{}]}, "mark": {"type": "rect", "fill": "white", "stroke": "#555", "strokeWidth": 1}, "encoding": {"x": {"datum": 0, "type": "quantitative", "scale": {"domain": [0, 100], "range": [101, 174], "nice": false, "zero": false}, "axis": null}, "x2": {"datum": 100}, "y": {"datum": 0, "type": "quantitative", "scale": {"domain": [0, 100], "range": [49, 0], "nice": false, "zero": false}, "axis": null}, "y2": {"datum": 100}}},
   {"data": {"values": [{}]}, "mark": {"type": "rule", "strokeDash": [1, 3], "color": "#666"}, "encoding": {"x": {"datum": 20, "type": "quantitative", "scale": {"domain": [0, 100], "range": [101, 174], "nice": false, "zero": false}, "axis": null}, "y": {"datum": 0, "type": "quantitative", "scale": {"domain": [0, 100], "range": [49, 0], "nice": false, "zero": false}, "axis": null}, "y2": {"datum": 100}}},
   {"data": {"name": "ins"}, "transform": [{"filter": "datum.p == 5"}], "mark": {"type": "line", "color": "black", "strokeWidth": 0.9}, "encoding": {"x": {"field": "t", "type": "quantitative", "scale": {"domain": [0, 100], "range": [101, 174], "nice": false, "zero": false}, "axis": null}, "y": {"field": "v", "type": "quantitative", "scale": {"domain": [0, 100], "range": [49, 0], "nice": false, "zero": false}, "axis": null}}}
  ]}
 ]},
{"width": 10, "height": 28, "data": {"values": [{}]}, "mark": {"type": "point", "opacity": 0}, "encoding": {}},
{"width": 290, "height": 58,
 "title": {"text": "Monte Carlo Simulation", "fontSize": 16, "offset": 12, "dx": -5},
 "resolve": {"axis": {"x": "independent", "y": "independent"}},
 "layer": [
  {"data": {"values": [{}]}, "mark": {"type": "rect", "fillOpacity": 0, "stroke": "black", "strokeWidth": 1},
   "encoding": {"x": {"datum": 2.2, "type": "quantitative", "scale": {"domain": [2.2, 3.0], "range": [54, 249], "nice": false, "zero": false}, "axis": {"orient": "bottom", "values": [2.2,2.4,2.6,2.8,3], "labelExpr": "datum.value == 3 ? '3' : format(datum.value, '.1f')", "labelFontSize": 10, "tickSize": 0, "labelPadding": 5, "domain": false, "labelFlush": false, "title": "Slope (octaves/mm)", "titleFontSize": 12, "titlePadding": 3}},
    "x2": {"datum": 3.0},
    "y": {"datum": 0, "type": "quantitative", "scale": {"domain": [0, 40], "nice": false, "zero": false}, "axis": {"orient": "left", "offset": -54, "values": [0,20,40], "labelFontSize": 10, "tickSize": 0, "labelPadding": 4, "domain": false, "title": "Iterations", "titleFontSize": 12, "titlePadding": 5}},
    "y2": {"datum": 40}}},
  {"data": {"name": "hist"}, "mark": {"type": "rect", "color": "#0b0b4a"},
   "encoding": {"x": {"field": "lo", "type": "quantitative", "scale": {"domain": [2.2, 3.0], "range": [54, 249], "nice": false, "zero": false}, "axis": null}, "x2": {"field": "hi"}, "y": {"field": "n", "type": "quantitative", "scale": {"domain": [0, 40], "nice": false, "zero": false}, "axis": null}, "y2": {"datum": 0}}},
  {"data": {"values": [{}]}, "mark": {"type": "point", "opacity": 0},
   "encoding": {"x": {"datum": 2.2, "type": "quantitative", "scale": {"domain": [2.2, 3.0], "range": [54, 249], "nice": false, "zero": false}, "axis": {"orient": "top", "offset": -3, "tickSize": 3, "labels": false, "domain": false, "values": [2.4,2.6,2.8], "title": null}},
    "y": {"datum": 0, "type": "quantitative", "scale": {"domain": [0, 40], "nice": false, "zero": false}, "axis": {"orient": "right", "offset": -44, "tickSize": 3, "labels": false, "domain": false, "values": [20], "title": null}}}}
 ]}
]
}
